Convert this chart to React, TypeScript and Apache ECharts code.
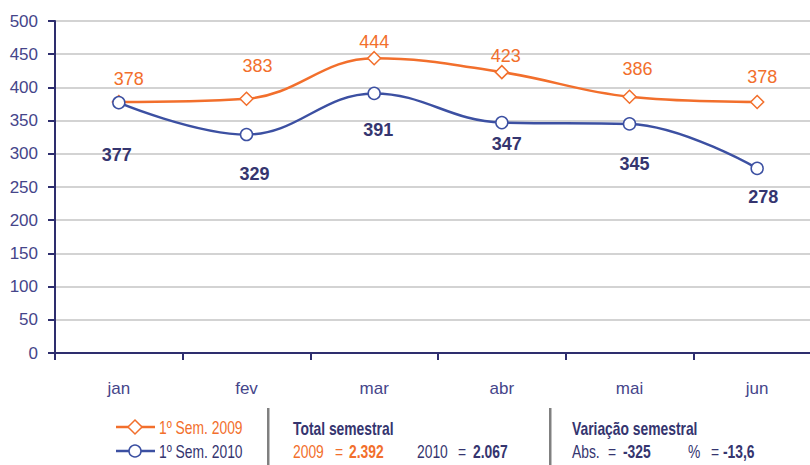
import React, { useEffect, useRef } from "react";
import * as echarts from "echarts";

const categories = ["jan", "fev", "mar", "abr", "mai", "jun"];
const sem2009 = [378, 383, 444, 423, 386, 378];
const sem2010 = [377, 329, 391, 347, 345, 278];
const yTicks = { min: 0, max: 500, interval: 50 };
const seriesNames = ["1º Sem. 2009", "1º Sem. 2010"];
const totals = { y2009: "2.392", y2010: "2.067" };
const variation = { abs: "-325", pct: "-13,6" };

const ORANGE = "#f26f2c";
const BLUE = "#3c50a2";
const NAVY = "#35356f";
const AXISTXT = "#45458a";
const FONT = "'Liberation Sans', Arial, sans-serif";

// label offsets (style only)
const off2009 = [[10, -23], [11, -33], [0, -16], [4, -16], [8, -28], [5, -25]];
const off2010 = [[-2, 52], [8, 39], [4, 37], [5, 21], [5, 40], [6, 29]];

export default function App() {
  const ref = useRef<HTMLDivElement>(null);
  useEffect(() => {
    document.body.style.overflow = "hidden";
    const chart = echarts.init(ref.current!, null, { renderer: "svg" });
    const txt = (x: number, y: number, text: string, color: string, bold = false) => ({
      type: "text",
      x,
      y,
      scaleX: 0.77,
      style: { text, fill: color, font: `${bold ? "bold " : ""}18px ${FONT}`, textVerticalAlign: "middle" },
    });
    const option: any = {
      animation: false,
      backgroundColor: "#ffffff",
      grid: { left: 55, right: 0, top: 21, bottom: 112, containLabel: false },
      xAxis: {
        type: "category",
        data: categories,
        boundaryGap: true,
        axisLine: { lineStyle: { color: "#2e2e6e", width: 2 } },
        axisTick: { show: true, length: 7, lineStyle: { color: "#2e2e6e", width: 2 } },
        axisLabel: { color: AXISTXT, fontSize: 17, fontFamily: FONT, margin: 27 },
        splitLine: { show: false },
      },
      yAxis: {
        type: "value",
        min: yTicks.min,
        max: yTicks.max,
        interval: yTicks.interval,
        axisLine: { show: true, lineStyle: { color: "#2e2e6e", width: 2 } },
        axisTick: { show: true, length: 7, lineStyle: { color: "#2e2e6e", width: 2 } },
        axisLabel: { color: AXISTXT, fontSize: 17, fontFamily: FONT, margin: 17 },
        splitLine: { show: true, lineStyle: { color: "#c4c4c4", width: 1.5 } },
      },
      series: [
        {
          name: seriesNames[0],
          type: "line",
          smooth: 0.4,
          data: sem2009.map((v, i) => ({
            value: v,
            label: { offset: off2009[i] },
          })),
          symbol: "diamond",
          symbolSize: 13,
          itemStyle: { color: "#ffffff", borderColor: ORANGE, borderWidth: 1.5 },
          lineStyle: { color: ORANGE, width: 2.5 },
          label: { show: true, position: "inside", color: ORANGE, fontSize: 18, fontFamily: FONT },
          z: 3,
        },
        {
          name: seriesNames[1],
          type: "line",
          smooth: 0.4,
          data: sem2010.map((v, i) => ({
            value: v,
            label: { offset: off2010[i] },
          })),
          symbol: "circle",
          symbolSize: 12,
          itemStyle: { color: "#ffffff", borderColor: BLUE, borderWidth: 1.5 },
          lineStyle: { color: BLUE, width: 2.5 },
          label: { show: true, position: "inside", color: NAVY, fontSize: 18, fontWeight: "bold", fontFamily: FONT },
          z: 4,
        },
      ],
      graphic: [
        { type: "line", shape: { x1: 116, y1: 427, x2: 155, y2: 427 }, style: { stroke: ORANGE, lineWidth: 2.5 } },
        { type: "polygon", shape: { points: [[135, 420], [142, 427], [135, 434], [128, 427]] }, style: { fill: "#fff", stroke: ORANGE, lineWidth: 1.5 } },
        txt(159, 427, seriesNames[0], ORANGE),
        { type: "line", shape: { x1: 116, y1: 451, x2: 155, y2: 451 }, style: { stroke: BLUE, lineWidth: 2.5 } },
        { type: "circle", shape: { cx: 135, cy: 451, r: 6 }, style: { fill: "#fff", stroke: BLUE, lineWidth: 1.5 } },
        txt(159, 451, seriesNames[1], NAVY),
        { type: "rect", shape: { x: 267, y: 408, width: 2.5, height: 57 }, style: { fill: "#808080" } },
        { type: "rect", shape: { x: 549, y: 408, width: 2.5, height: 57 }, style: { fill: "#808080" } },
        txt(293, 428, "Total semestral", NAVY, true),
        txt(293, 451, "2009", ORANGE),
        txt(335, 451, "=", ORANGE),
        txt(349, 451, totals.y2009, ORANGE, true),
        txt(417, 451, "2010", NAVY),
        txt(458, 451, "=", NAVY),
        txt(473, 451, totals.y2010, NAVY, true),
        txt(572, 428, "Variação semestral", NAVY, true),
        txt(572, 451, "Abs.", NAVY),
        txt(608, 451, "=", NAVY),
        txt(623, 451, variation.abs, NAVY, true),
        txt(688, 451, "%", NAVY),
        txt(711, 451, "=", NAVY),
        txt(723, 451, variation.pct, NAVY, true),
      ],
    };
    chart.setOption(option);
    return () => chart.dispose();
  }, []);
  return <div ref={ref} style={{ position: "fixed", left: 0, top: 0, width: 821, height: 465 }} />;
}
